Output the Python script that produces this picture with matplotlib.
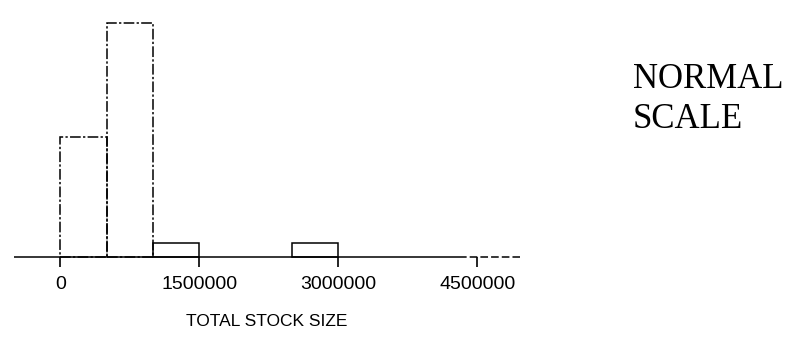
import matplotlib
matplotlib.use("Agg")
import matplotlib.pyplot as plt
import numpy as np

# histogram of total stock size, bins of 500000
bin_left = [0, 500000, 1000000, 2500000]
bin_width = 500000
counts = [17, 33, 2, 2]
bar_styles = [(0, (7, 1.5, 1.5, 1.5)), (0, (7, 1.5, 1.5, 1.5)), "-", "-"]

tick_pos = [0, 1500000, 3000000, 4500000]
tick_labels = ["0", "1500000", "3000000", "4500000"]

fig = plt.figure(figsize=(7.92, 3.44), dpi=100)
ax = fig.add_axes([14 / 792, (344 - 257) / 344, 506 / 792, 248 / 344])

for x, c, ls in zip(bin_left, counts, bar_styles):
    ax.bar(x, c, width=bin_width, align="edge", fill=False,
           edgecolor="black", linewidth=1.1, linestyle=ls, clip_on=False)

# baseline: solid, dashed towards the right end
ax.plot([-500000, 4300000], [0, 0], color="black", lw=1.1,
        solid_capstyle="butt", clip_on=False)
ax.plot([4300000, 4960000], [0, 0], color="black", lw=1.1,
        ls=(0, (5, 2)), clip_on=False)

ax.set_xlim(-500000, 4960000)
ax.set_ylim(0, 35)
for s in ax.spines.values():
    s.set_visible(False)
ax.set_yticks([])
ax.set_xticks(tick_pos)
ax.set_xticklabels(tick_labels, family="Liberation Sans", fontsize=14)
ax.tick_params(axis="x", direction="out", length=7, width=1.2, pad=7)
ax.set_xlabel("TOTAL STOCK SIZE", family="Liberation Sans", fontsize=12.5, labelpad=15)

fig.text(633 / 792, 1 - 88 / 344, "NORMAL", family="Liberation Serif",
         fontsize=25, va="baseline", ha="left")
fig.text(633 / 792, 1 - 128 / 344, "SCALE", family="Liberation Serif",
         fontsize=25, va="baseline", ha="left")

fig.savefig("out.png", dpi=100)
